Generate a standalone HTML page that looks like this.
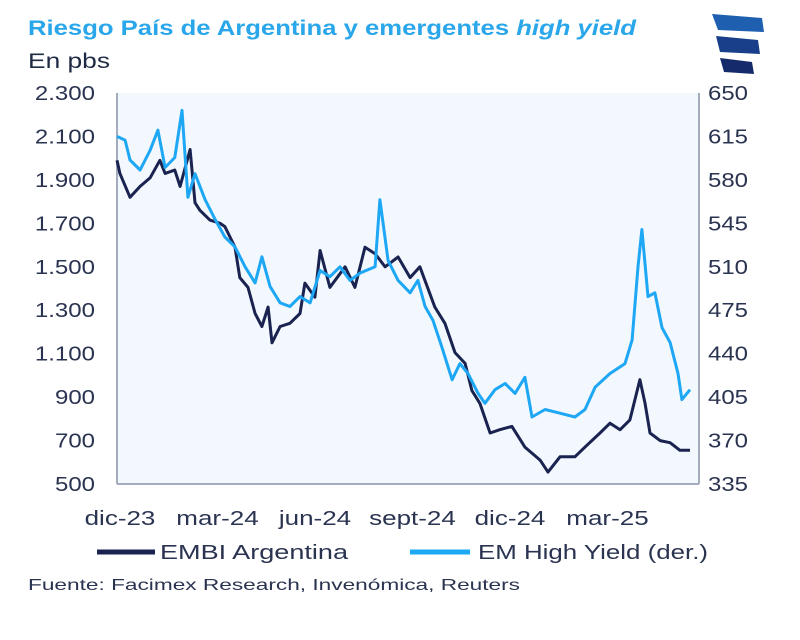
<!DOCTYPE html>
<html><head><meta charset="utf-8">
<style>
body{margin:0;background:#fff;}
svg{display:block;font-family:"Liberation Sans",sans-serif;}
</style></head>
<body>
<svg width="800" height="640" viewBox="0 0 800 640">
<text x="28" y="35" font-size="21" font-weight="bold" fill="#2aa6ea" textLength="608" lengthAdjust="spacingAndGlyphs">Riesgo País de Argentina y emergentes <tspan font-style="italic">high yield</tspan></text>
<text x="28" y="68" font-size="21" fill="#1f2a44" textLength="82" lengthAdjust="spacingAndGlyphs">En pbs</text>
<g>
<path d="M712 14 L762 18 L764 32 L718 30 Z" fill="#1e5fb0"/>
<path d="M716 36 L758 40 L760 54 L720 52 Z" fill="#1a3f8a"/>
<path d="M720 58 L752 62 L754 74 L724 72 Z" fill="#152a6a"/>
</g>
<rect x="117" y="93" width="582" height="391" fill="#f2f8fe"/>
<g id="axes"></g>
<g id="series"></g>
<g>
<line x1="97" y1="552" x2="155" y2="552" stroke="#1a2350" stroke-width="5"/>
<text x="160" y="559" font-size="20" fill="#2a3350" textLength="188" lengthAdjust="spacingAndGlyphs">EMBI Argentina</text>
<line x1="410" y1="552" x2="470" y2="552" stroke="#1ea7f5" stroke-width="5"/>
<text x="478" y="559" font-size="20" fill="#2a3350" textLength="230" lengthAdjust="spacingAndGlyphs">EM High Yield (der.)</text>
</g>
<text x="28" y="590" font-size="16" fill="#2a3350" textLength="492" lengthAdjust="spacingAndGlyphs">Fuente: Facimex Research, Invenómica, Reuters</text>
</svg>
<script>
const embiMonths=[0,0.09,0.4,0.71,1.02,1.32,1.48,1.78,1.94,2.25,2.4,2.55,2.86,3.17,3.32,3.63,3.78,4.03,4.25,4.46,4.65,4.77,5.02,5.32,5.63,5.78,6.09,6.25,6.55,7.02,7.32,7.63,7.94,8.25,8.65,9.02,9.32,9.78,10.09,10.4,10.71,10.92,11.17,11.48,11.78,12.15,12.55,13.02,13.26,13.63,14.09,14.4,14.86,15.17,15.48,15.78,16.09,16.25,16.4,16.71,17.02,17.32,17.63];
const embiValues=[1990,1930,1820,1870,1910,1990,1930,1945,1870,2040,1795,1760,1715,1700,1685,1590,1450,1405,1285,1225,1315,1150,1225,1240,1285,1425,1360,1575,1405,1500,1405,1590,1560,1500,1545,1450,1500,1315,1240,1105,1055,930,870,735,750,765,670,610,555,625,625,670,735,780,750,795,980,870,735,700,690,655,655];
const hyMonths=[0,0.25,0.4,0.71,1.02,1.26,1.48,1.78,2.0,2.18,2.4,2.71,3.02,3.32,3.63,3.94,4.25,4.46,4.71,5.02,5.32,5.63,5.94,6.25,6.55,6.86,7.17,7.48,7.94,8.09,8.34,8.65,9.02,9.26,9.48,9.72,10.0,10.31,10.55,10.8,11.11,11.32,11.63,11.94,12.25,12.55,12.77,13.17,13.63,14.09,14.4,14.71,15.17,15.63,15.85,16.03,16.15,16.34,16.55,16.77,17.02,17.26,17.38,17.63];
const hyValues=[615,612,596,588,604,620,590,598,636,566,585,564,548,534,526,510,497,518,494,481,478,486,481,507,502,510,499,505,510,564,515,499,489,499,478,467,445,419,432,424,408,400,411,416,408,421,389,395,392,389,395,413,424,432,451,510,540,486,489,461,449,424,403,411];
const leftTicks=[2300,2100,1900,1700,1500,1300,1100,900,700,500];
const leftTickLabels=["2.300","2.100","1.900","1.700","1.500","1.300","1.100","900","700","500"];
const rightTicks=[650,615,580,545,510,475,440,405,370,335];
const xTickMonths=[0,3,6,9,12,15];
const xTickLabels=["dic-23","mar-24","jun-24","sept-24","dic-24","mar-25"];

const X0=117,X1=699,Y0=93,Y1=484;
const xScale=m=>X0+m*32.5;
const yL=v=>Y1-(v-500)/(2300-500)*(Y1-Y0);
const yR=v=>Y1-(v-335)/(650-335)*(Y1-Y0);
const NS="http://www.w3.org/2000/svg";
function mk(tag,attrs,parent){const e=document.createElementNS(NS,tag);for(const k in attrs)e.setAttribute(k,attrs[k]);parent.appendChild(e);return e;}
function widen(t,f){const w=t.getComputedTextLength();t.setAttribute('textLength',(w*f).toFixed(1));t.setAttribute('lengthAdjust','spacingAndGlyphs');}
const axes=document.getElementById('axes'),series=document.getElementById('series');
let a=mk('line',{x1:X0,y1:Y0,x2:X0,y2:Y1,stroke:'#a4acc0','stroke-width':2},axes);


a=mk('line',{x1:X1,y1:Y0,x2:X1,y2:Y1,stroke:'#a4acc0','stroke-width':2},axes);


a=mk('line',{x1:X0,y1:Y1,x2:X1,y2:Y1,stroke:'#a4acc0','stroke-width':2},axes);


leftTicks.forEach((v,i)=>{const t=mk('text',{x:95,y:yL(v)+7,'font-size':20,fill:'#2a3350','text-anchor':'end'},axes);t.textContent=leftTickLabels[i];


widen(t,1.2);});
rightTicks.forEach(v=>{const t=mk('text',{x:708,y:yR(v)+7,'font-size':20,fill:'#2a3350'},axes);t.textContent=String(v);


widen(t,1.2);});
xTickMonths.forEach((m,i)=>{const t=mk('text',{x:xScale(m)+3,y:525,'font-size':20,fill:'#2a3350','text-anchor':'middle'},axes);t.textContent=xTickLabels[i];


widen(t,1.3);});
function pathD(ms,vs,sc){return ms.map((m,i)=>(i?'L':'M')+xScale(m).toFixed(1)+' '+sc(vs[i]).toFixed(1)).join(' ');}
let p=mk('path',{d:pathD(embiMonths,embiValues,yL),fill:'none',stroke:'#1a2350','stroke-width':3,'stroke-linejoin':'round'},series);


p=mk('path',{d:pathD(hyMonths,hyValues,yR),fill:'none',stroke:'#1ea7f5','stroke-width':3,'stroke-linejoin':'round'},series);


</script>
</body></html>
